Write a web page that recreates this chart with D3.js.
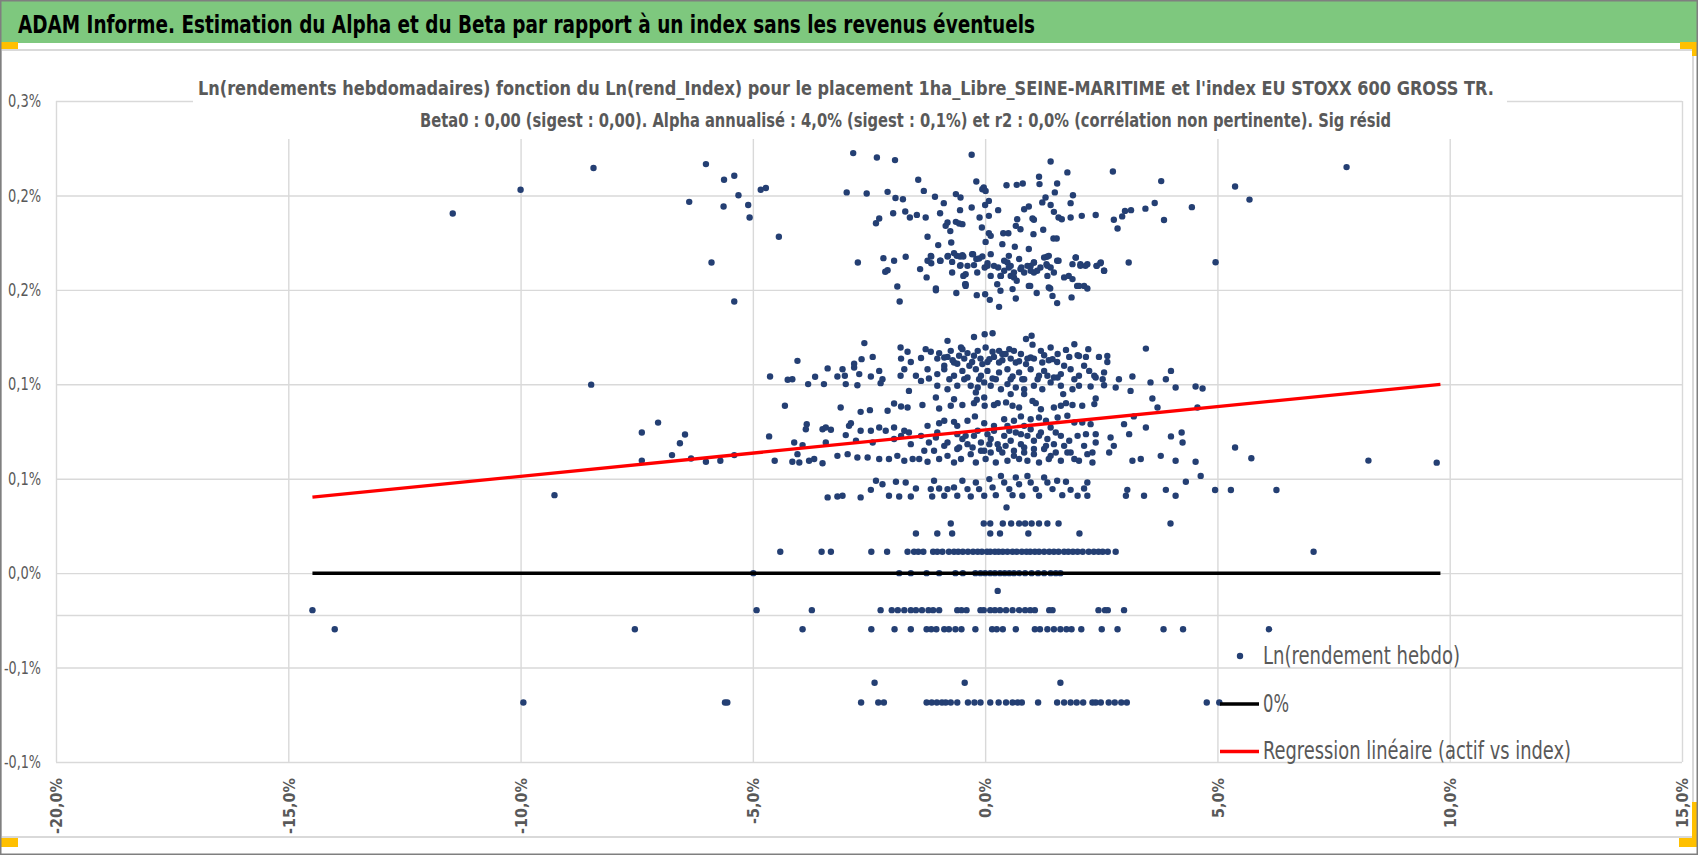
<!DOCTYPE html>
<html>
<head>
<meta charset="utf-8">
<script src="https://cdn.jsdelivr.net/npm/d3@7"></script>
<style>
  body { margin: 0; background: #fff; }
  svg { display: block; }
  .grid line { stroke: #d9d9d9; stroke-width: 1.4; }
  .grid path { display: none; }
  .lbl text { fill: #595959; }
  .lbl path, .lbl line { display: none; }
</style>
</head>
<body>
<div class="chart"></div>
<script>
// ---- data (x = Ln(rend_Index) in %, y = Ln(rendement hebdo) in %) ----
const headerText = "ADAM Informe. Estimation du Alpha et du Beta par rapport à un index sans les revenus éventuels";
const titleLines = [
    "Ln(rendements hebdomadaires) fonction du Ln(rend_Index) pour le placement 1ha_Libre_SEINE-MARITIME  et l'index EU STOXX 600 GROSS TR.",
    "Beta0 : 0,00 (sigest : 0,00). Alpha annualisé : 4,0% (sigest : 0,1%) et r2 : 0,0% (corrélation non pertinente). Sig résid"
];
const legendLabels = ["Ln(rendement hebdo)", "0%", "Regression linéaire (actif vs index)"];

const xTicks = [-20, -15, -10, -5, 0, 5, 10, 15];
const xTickLabels = ["-20,0%", "-15,0%", "-10,0%", "-5,0%", "0,0%", "5,0%", "10,0%", "15,0%"];
const yTicks = [-0.1, -0.05, 0, 0.05, 0.1, 0.15, 0.2, 0.25];
const yTickLabels = ["-0,1%", "-0,1%", "0,0%", "0,1%", "0,1%", "0,2%", "0,2%", "0,3%"];
const axisCross = [-0.0222];

// 0% line and regression line end points
const zeroX = [-14.48, 9.8];
const zeroY = [0, 0];
const regX = [-14.48, 9.8];
const regY = [0.0402, 0.1000];

// weekly returns that fall on discrete levels (lower part of the cloud)
const rowLevels = [-0.0685, -0.058, -0.0297, -0.0196, -0.0094, 0, 0.0113, 0.021, 0.0263];
const rowXs = [
    [-9.94, -5.60, -5.55, -2.67, -2.30, -2.18, -1.26, -1.15, -1.04, -0.93, -0.85, -0.74, -0.60, -0.37, -0.23, -0.10, 0.11, 0.29, 0.45, 0.59, 0.70, 0.79, 1.14, 1.55, 1.70, 1.84, 1.97, 2.11, 2.31, 2.38, 2.49, 2.66, 2.79, 2.93, 3.05, 4.77, 5.04],
    [-2.38, -0.44, 1.62],
    [-14.0, -7.54, -3.93, -2.45, -1.95, -1.60, -1.26, -1.16, -1.05, -0.88, -0.78, -0.64, -0.51, -0.21, 0.15, 0.25, 0.38, 0.66, 1.07, 1.18, 1.34, 1.48, 1.62, 1.75, 1.86, 2.07, 2.51, 2.85, 3.84, 4.26, 6.11],
    [-14.48, -4.92, -3.73, -2.25, -2.01, -1.88, -1.74, -1.60, -1.49, -1.36, -1.22, -1.12, -0.99, -0.60, -0.51, -0.40, -0.10, -0.03, 0.11, 0.21, 0.32, 0.45, 0.59, 0.73, 0.86, 0.97, 1.07, 1.38, 1.45, 2.44, 2.58, 2.64, 2.99],
    [0.27],
    [-4.99, -1.85, -1.60, -1.26, -0.99, -0.64, -0.48, -0.21, -0.10, 0, 0.11, 0.21, 0.32, 0.42, 0.52, 0.62, 0.73, 0.86, 1.00, 1.14, 1.27, 1.41, 1.52, 1.62],
    [-4.41, -3.52, -3.32, -2.45, -2.11, -1.67, -1.53, -1.44, -1.33, -1.12, -1.03, -0.92, -0.78, -0.67, -0.58, -0.48, -0.37, -0.26, -0.16, -0.07, 0.04, 0.11, 0.21, 0.29, 0.38, 0.48, 0.59, 0.68, 0.79, 0.89, 0.97, 1.07, 1.16, 1.27, 1.38, 1.48, 1.58, 1.70, 1.79, 1.89, 1.99, 2.10, 2.23, 2.34, 2.44, 2.53, 2.64, 2.81, 7.07],
    [-1.49, -1.03, -0.71, 0.11, 0.32, 0.93, 2.03],
    [-0.74, -0.03, 0.11, 0.38, 0.56, 0.73, 0.86, 1.00, 1.16, 1.34, 1.58, 3.99]
];

// lower cloud, 0.035% .. 0.127%
const lowerCloud = [
    [-0.24,.125],[-0.01,.1265],[0.16,.127],[0.88,.124],[1.0,.1257],[1.02,.121],[-0.81,.123],[-2.60,.1218],[-0.52,.1195],
    [-1.82,.1195],[-1.67,.1172],[-1.28,.1186],[-1.17,.1172],[-0.99,.1165],[-0.88,.1142],[-0.74,.1177],[-0.49,.1186],[-0.38,.1165],[-0.16,.1177],[0.01,.1195],[0.16,.1172],[0.30,.1177],[0.37,.116],[0.52,.1186],[0.62,.1177],[0.77,.116],[1.20,.1177],[1.41,.1195],[1.56,.116],[1.74,.1182],[1.92,.1212],[2.02,.115],[2.22,.1186],[2.63,.115],[3.46,.1189],
    [-2.82,.1109],[-2.66,.1133],[-2.42,.1145],[-1.81,.1136],[-1.60,.1118],[-1.38,.1139],[-1.03,.1136],[-0.81,.1145],[-0.70,.1127],[-0.60,.1109],[-0.45,.1136],[-0.28,.1118],[-0.10,.1136],[0.05,.1118],[0.19,.1145],[0.37,.1127],[0.55,.1136],[0.73,.1122],[0.91,.1136],[1.05,.1136],[1.27,.1154],[1.37,.1127],[1.55,.1118],[1.81,.1145],[1.99,.1154],[2.17,.1145],[2.45,.1145],[2.63,.1118],
    [-0.88,.1098],[-0.77,.1027],[-0.67,.1115],[-0.56,.1151],[-0.45,.1027],[-0.34,.1098],[-0.24,.1151],[-0.13,.1027],[-0.06,.1107],[0.09,.1133],[0.23,.1027],[0.30,.1115],[0.44,.116],[0.55,.1027],[0.66,.1115],[0.80,.1027],[0.88,.1107],[0.98,.1142],[1.13,.1027],[1.23,.1115],[1.34,.1045],[1.45,.1133],[1.56,.1036],[1.70,.1098],[1.92,.1027],[2.13,.1098],[2.35,.1045],[2.53,.1027],
    [-4.04,.1124],[-3.39,.1084],[-3.07,.108],[-3.18,.1041],[-3.02,.1045],[-2.82,.1089],[-2.71,.1054],[-2.46,.1041],[-2.28,.1071],[-2.21,.1027],[-1.82,.1045],[-1.74,.108],[-1.49,.1045],[-1.24,.108],[-1.21,.1031],[-1.03,.1054],[-0.88,.108],[-0.67,.1045],[-0.49,.1071],[-0.38,.1036],[-0.20,.108],[-0.09,.1045],[0.05,.1071],[0.16,.1031],[0.30,.1063],[0.48,.108],[0.59,.1041],[0.73,.1063],[0.84,.1027],[0.98,.108],[1.16,.1045],[1.27,.1071],[1.48,.1036],[1.63,.1054],[1.84,.108],[2.02,.1045],[2.24,.1071],[2.38,.1036],[2.56,.1063],[2.88,.1027],[3.17,.1041],[3.56,.101],[3.89,.1027],[4.0,.1071],[-4.63,.1041],[-4.25,.1024],[-4.15,.1027],[-3.66,.104],[-3.81,.1001],[-3.47,.1001],
    [-3.0,.1001],[-2.75,.0995],[-2.25,.1006],[-1.38,.1018],[-1.03,.0992],[-0.81,.0974],[-0.60,.0992],[-0.31,.0992],[-0.16,.0983],[-0.02,.101],[0.12,.0992],[0.34,.0974],[0.48,.1001],[0.66,.0983],[0.84,.0974],[1.05,.0992],[1.23,.0974],[1.41,.101],[1.63,.0992],[1.88,.0974],[2.02,.0992],[2.27,.0988],[2.56,.0995],[2.81,.0983],[3.13,.0965],[4.1,.0983],[4.53,.0988],[4.68,.0978],[-1.64,.0965],
    [-4.31,.0886],[-3.11,.0877],[-2.68,.0854],[-2.48,.0863],[-2.10,.086],[-1.96,.0898],[-1.81,.0882],[-1.67,.0877],[-1.35,.089],[-1.06,.093],[-0.99,.0872],[-0.74,.0886],[-0.67,.0921],[-0.49,.089],[-0.24,.09],[-0.18,.0918],[-0.02,.093],[-0.01,.0886],[0.19,.089],[0.27,.09],[0.45,.0904],[0.59,.0886],[0.73,.0877],[1.02,.0912],[1.09,.09],[1.20,.0868],[1.48,.0877],[1.63,.0886],[1.74,.09],[1.88,.089],[2.09,.0886],[2.35,.0895],[2.38,.0925],[3.71,.0877],[3.60,.0925],[4.57,.0877],[1.68,.0948],[0.55,.0948],[0.84,.0948],[-0.20,.0957],
    [-3.84,.0789],[-3.86,.0762],[-3.50,.0762],[-3.43,.0771],[-3.32,.0759],[-2.93,.078],[-2.89,.0794],[-2.68,.0754],[-2.46,.0754],[-2.28,.0771],[-2.14,.0754],[-1.96,.0771],[-1.74,.0754],[-1.64,.0745],[-1.24,.078],[-0.99,.0794],[-0.88,.0807],[-0.67,.0801],[-0.60,.078],[-0.38,.0807],[-0.22,.083],[-0.02,.0794],[0.19,.078],[0.41,.0815],[0.48,.078],[0.62,.0807],[0.77,.083],[0.84,.078],[0.98,.0815],[1.16,.0824],[1.31,.0807],[1.41,.0771],[1.56,.0824],[1.77,.0833],[1.92,.0798],[2.09,.0798],[2.27,.0789],[2.99,.0789],[3.20,.083],[3.46,.0771],
    [-4.65,.0724],[-4.11,.0692],[-3.93,.0678],[-3.43,.0692],[-3.0,.0731],[-2.78,.0701],[-2.42,.0692],[-1.96,.071],[-1.81,.0727],[-1.38,.0727],[-1.21,.0692],[-1.06,.0718],[-0.81,.0692],[-0.60,.0736],[-0.49,.071],[-0.38,.0683],[-0.24,.0727],[-0.09,.0692],[0.05,.0736],[0.12,.071],[0.27,.0683],[0.41,.0727],[0.55,.0701],[0.66,.0745],[0.77,.0683],[0.91,.0727],[1.05,.0701],[1.20,.0745],[1.34,.071],[1.48,.0683],[1.63,.0727],[1.81,.0701],[1.99,.0727],[2.17,.0736],[2.38,.0736],[2.38,.0692],[2.70,.0718],[2.77,.0674],[3.10,.0736],[4.0,.0724],[4.23,.0745],[4.25,.0692],
    [-0.56,.0665],[-0.42,.0727],[-0.27,.0665],[-0.16,.0754],[-0.02,.0648],[0.09,.0683],[0.19,.0754],[0.30,.0657],[0.44,.0674],[0.52,.0754],[0.62,.0621],[0.77,.0736],[0.84,.0665],[0.98,.0762],[1.05,.0657],[1.16,.0727],[1.31,.0674],[1.41,.0621],[1.52,.0745],[1.70,.0674],[1.84,.0639],[2.13,.0674],[2.31,.0639],[-0.88,.0674],[-1.03,.0745],[-1.31,.0648],[-1.60,.0683],
    [-6.33,.0607],[-6.01,.059],[-5.70,.0595],[-5.40,.0625],[-4.53,.0595],[-4.15,.059],[-4.04,.063],[-4.0,.0586],[-3.79,.0595],[-3.68,.0604],[-3.50,.0582],[-3.18,.0621],[-2.96,.063],[-2.75,.0612],[-2.53,.0612],[-2.28,.0604],[-2.07,.0604],[-1.89,.0621],[-1.74,.0595],[-1.56,.0604],[-1.42,.0604],[-1.24,.059],[-1.10,.0648],[-0.99,.0604],[-0.81,.0621],[-0.67,.0586],[-0.60,.0657],[-0.52,.0604],[-0.31,.063],[-0.20,.0586],[-0.09,.0648],[0.01,.0604],[0.12,.0639],[0.23,.0586],[0.37,.0639],[0.48,.0595],[0.62,.0648],[0.73,.0604],[0.84,.0639],[0.91,.0595],[1.05,.063],[1.16,.0586],[1.27,.0657],[1.37,.0604],[1.52,.0639],[1.63,.0595],[1.77,.0639],[1.92,.0604],[2.02,.0595],[2.20,.063],[2.31,.0586],[2.67,.0639],[3.17,.0595],[3.35,.0604],[3.78,.0621],[4.10,.0595],[4.53,.059],[4.64,.0515],[4.32,.0484],
    [-3.39,.0401],[-3.18,.0406],[-3.07,.041],[-2.68,.0401],[-2.46,.0441],[-2.35,.0489],[-2.21,.0471],[-2.07,.041],[-1.92,.0484],[-1.85,.0406],[-1.71,.048],[-1.60,.0406],[-1.49,.0448],[-1.17,.0445],[-1.14,.0406],[-1.10,.0489],[-0.99,.0448],[-0.88,.041],[-0.81,.0445],[-0.67,.0454],[-0.60,.041],[-0.49,.0489],[-0.38,.0445],[-0.31,.0406],[-0.20,.048],[-0.13,.0445],[-0.02,.041],[0.09,.0498],[0.16,.0454],[0.23,.0413],[0.34,.0515],[0.41,.048],[0.46,.0348],[0.52,.0445],[0.59,.0413],[0.66,.0507],[0.73,.0471],[0.80,.041],[0.91,.0515],[0.98,.048],[1.09,.0445],[1.16,.041],[1.27,.0507],[1.34,.048],[1.45,.0445],[1.55,.0489],[1.66,.0413],[1.74,.0484],[1.84,.0441],[1.99,.041],[2.13,.0448],[2.20,.048],[2.20,.041],[3.06,.0441],[3.03,.041],[3.42,.041],[3.89,.0441],[4.10,.041],[4.95,.044],[5.29,.044],[6.27,.044]
];

// upper cloud, 0.14% .. 0.223%
const upperCloud = [
    [-6.37,.1966],[-6.01,.2166],[-5.63,.1941],[-5.62,.2083],[-5.40,.2104],[-5.31,.2001],[-5.10,.1949],[-5.07,.1883],[-4.83,.2030],[-4.72,.2039],[-4.44,.1781],[-5.89,.1645],
    [-2.84,.2224],[-2.98,.2016],[-2.74,.1645],[-2.55,.2010],[-2.33,.2201],[-2.35,.1853],[-2.28,.1878],[-2.19,.1668],[-2.15,.1596],[-2.10,.2019],[-2.10,.1604],[-1.98,.1906],[-1.94,.2187],[-1.93,.1986],[-1.96,.1654],[-1.89,.1518],[-1.77,.1980],[-1.72,.1915],[-1.71,.1675],[-1.62,.1883],[-1.47,.1897],[-1.44,.2083],[-1.40,.1610],[-1.32,.2024],[-1.28,.1883],[-1.26,.1566],[-1.24,.1781],[-1.17,.1680],[-1.16,.1641],[-1.08,.1993],[-1.06,.1507],[-1.01,.1737],[-0.97,.1906],[-0.97,.1654],[-0.89,.1959],[-0.85,.1839],[-0.81,.1857],[-0.80,.1680],[-0.75,.1811],[-0.73,.1751],[-0.71,.1648],[-0.71,.1592],
    [-0.63,.2007],[-0.63,.1860],[-0.61,.1680],[-0.56,.1851],[-0.54,.1922],[-0.53,.1989],[-0.49,.1848],[-0.53,.1631],[-0.49,.1684],[-0.47,.1574],[-0.42,.1530],[-0.38,.1627],[-0.29,.2215],[-0.29,.1936],[-0.26,.1689],[-0.19,.2074],[-0.19,.1663],[-0.17,.1592],[-0.12,.1883],[-0.07,.1830],[-0.06,.2033],[-0.03,.2042],[0.01,.2024],[0.00,.1949],[0.05,.1627],[0.08,.1971],[0.08,.1892],[0.08,.1800],[0.12,.1786],[0.01,.1754],[0.12,.1574],
    [0.28,.1922],[0.37,.1742],[0.39,.1800],[0.41,.1654],[0.50,.1800],[0.51,.1680],[0.46,.2054],[0.55,.1627],[0.66,.1839],[0.64,.1728],[0.68,.2056],[0.69,.1874],[0.76,.1821],[0.76,.1610],[0.81,.2063],[0.84,.1927],[0.94,.1941],[0.94,.1716],[0.98,.1627],[1.02,.1878],[1.04,.1795],[1.05,.1871],[1.05,.1645],[1.16,.2099],[1.17,.2060],[1.23,.1963],[1.25,.1818],[1.30,.1989],[1.33,.1675],[1.34,.1627],[1.41,.2180],[1.41,.1949],[1.47,.1772],[1.48,.1913],[1.50,.2016],[1.54,.1772],[1.55,.2063],[1.58,.1883],[1.58,.1654],[1.65,.1874],[1.77,.2122],[1.84,.1959],[1.84,.1883],[1.88,.1636],[1.89,.2001],[1.95,.1671],[2.05,.1627],[2.08,.1892],[2.20,.1636],[2.38,.1896],[2.40,.1627],[2.49,.1645],[2.56,.1601],[2.75,.2127],[2.77,.1871],[2.85,.1825],[2.95,.1889],[3.01,.1918],[3.14,.1922],[3.09,.1645],
    [0.34,.1574],[0.26,.1530],[0.62,.1566],[1.34,.1574],[1.05,.1592],[1.98,.1521],[2.13,.1521],[1.37,.1513],[0.94,.1521],[-0.42,.1521],
    [-1.84,.1438],[-1.06,.1498],[-0.62,.1483],[-0.43,.1530],[-0.18,.1472],[0.00,.1477],[0.10,.1447],[0.30,.1410],[0.33,.1495],[0.59,.1504],[0.66,.1454],[0.97,.1521],[1.11,.1483],[1.40,.1507],[1.45,.1468],[1.55,.1430],[1.86,.1460],[2.02,.1521],[2.20,.1507],
    [3.45,.193],[3.65,.196],[3.79,.2076],[3.85,.187]
];

// dense core of the upper cloud, 0.155% .. 0.17%
const upperCore = [
    [-1.24,.1654],[-1.16,.1677],[-0.96,.1654],[-0.81,.1677],[-0.67,.1694],[-0.54,.1677],[-0.54,.1627],[-0.47,.1677],[-0.42,.1583],[-0.28,.1689],[-0.24,.1631],[-0.13,.1666],
    [-0.06,.1677],[-0.01,.1618],[0.05,.1641],[0.12,.1689],[0.19,.1627],[0.28,.1618],[0.33,.1574],[0.41,.1601],[0.48,.1645],[0.51,.1618],[0.55,.1574],[0.62,.1592],
    [0.68,.1548],[0.73,.1663],[0.78,.1618],[0.84,.1592],[0.91,.1627],[0.98,.1601],[1.05,.1645],[1.12,.1601],[1.19,.1618],[1.27,.1671],[1.32,.1636],[1.37,.1680],
    [1.41,.1618],[1.48,.1592],[1.55,.1654],[1.70,.1566],[1.80,.1574],[1.88,.1557],[1.95,.1671],[2.05,.1636],[2.16,.1627],[2.40,.1627],[2.48,.1641],[2.56,.1601]
];

// isolated points
const outliers = [
    [-11.46,.1904],[-10.0,.2030],[-8.43,.2145],[-5.40,.1438],[4.45,.1938],[4.96,.1646],[5.38,.2047],[5.69,.1978],[7.78,.2150],
    [-8.48,.0998],[-9.27,.0413],[-7.39,.0745],[-7.04,.0797],[-7.39,.0596],[-6.74,.0625],[-6.57,.0688],[-6.46,.0734],
    [5.38,.0665],[5.73,.0608],[8.25,.0596],[9.72,.0585]
];

// ---- layout ----
const width = 1698;
const height = 855;
const plot = { left: 56, right: 1682, top: 101, bottom: 762 };
const dotColor = "#243f73";
const textFont = "'Liberation Sans Narrow', 'DejaVu Sans Condensed', 'Open Sans', sans-serif";

let svg = d3.select(".chart").append("svg")
    .attr("width", width)
    .attr("height", height);

let xScale = d3.scaleLinear().domain([-20, 15]).range([plot.left, plot.right]);
let yScale = d3.scaleLinear().domain([-0.1, 0.25]).range([plot.bottom, plot.top]);

// all scatter points
let points = upperCloud.concat(upperCore, lowerCloud, outliers);
rowLevels.forEach((level, i) => {
    rowXs[i].forEach(x => points.push([x, level]));
});

// header band
svg.append("rect").attr("x", 0).attr("y", 0).attr("width", width).attr("height", 43).attr("fill", "#7ec87e");
svg.append("text")
    .attr("x", 18).attr("y", 33)
    .attr("font-family", textFont).attr("font-weight", "bold").attr("font-size", 25)
    .attr("textLength", 1017).attr("lengthAdjust", "spacingAndGlyphs")
    .attr("fill", "#000")
    .text(headerText);

// chart frame
svg.append("rect")
    .attr("x", 1).attr("y", 50).attr("width", 1692).attr("height", 787)
    .attr("fill", "none").attr("stroke", "#d9d9d9").attr("stroke-width", 2);

// gridlines
svg.append("g")
    .attr("class", "grid")
    .attr("transform", "translate(0," + plot.bottom + ")")
    .call(d3.axisBottom(xScale).tickValues(xTicks).tickSize(-(plot.bottom - plot.top)).tickFormat(""));
svg.append("g")
    .attr("class", "grid")
    .attr("transform", "translate(" + plot.left + ",0)")
    .call(d3.axisLeft(yScale).tickValues(yTicks.concat(axisCross)).tickSize(-(plot.right - plot.left)).tickFormat(""));

// chart title (its box hides the gridlines behind it)
svg.append("rect").attr("x", 193).attr("y", 66).attr("width", 1314).attr("height", 73).attr("fill", "#fff");
const titleStarts = [198, 420];
const titleBaselines = [95, 127];
const titleWidths = [1296, 971];
titleLines.forEach((line, i) => {
    svg.append("text")
        .attr("x", titleStarts[i]).attr("y", titleBaselines[i])
        .attr("font-family", textFont).attr("font-weight", "bold").attr("font-size", 19.5)
        .attr("textLength", titleWidths[i]).attr("lengthAdjust", "spacingAndGlyphs")
        .attr("fill", "#595959")
        .text(line);
});

// scatter
svg.append("g").selectAll("circle")
    .data(points)
    .enter()
    .append("circle")
    .attr("cx", d => xScale(d[0]))
    .attr("cy", d => yScale(d[1]))
    .attr("r", 3.2)
    .attr("fill", dotColor);

// 0% line and regression
let line = d3.line().x(d => xScale(d[0])).y(d => yScale(d[1]));
svg.append("path")
    .datum(zeroX.map((x, i) => [x, zeroY[i]]))
    .attr("d", line).attr("fill", "none").attr("stroke", "#000").attr("stroke-width", 3.5);
svg.append("path")
    .datum(regX.map((x, i) => [x, regY[i]]))
    .attr("d", line).attr("fill", "none").attr("stroke", "#ff0000").attr("stroke-width", 3.3);

// axis labels
let yLabels = svg.append("g")
    .attr("class", "lbl")
    .attr("transform", "translate(41,0)")
    .call(d3.axisLeft(yScale).tickValues(yTicks).tickSize(0).tickPadding(0)
        .tickFormat((d, i) => yTickLabels[i]));
yLabels.selectAll("text")
    .attr("font-family", textFont).attr("font-size", 17.5)
    .attr("textLength", (d, i) => yTickLabels[i].startsWith("-") ? 37 : 33)
    .attr("lengthAdjust", "spacingAndGlyphs");

let xLabels = svg.append("g")
    .attr("class", "lbl")
    .attr("transform", "translate(0," + plot.bottom + ")")
    .call(d3.axisBottom(xScale).tickValues(xTicks).tickSize(0)
        .tickFormat((d, i) => xTickLabels[i]));
xLabels.selectAll("text")
    .attr("transform", "rotate(-90)")
    .attr("x", -16).attr("y", 0).attr("dy", "0.36em")
    .attr("text-anchor", "end")
    .attr("font-family", "'DejaVu Sans Condensed', 'DejaVu Sans', sans-serif")
    .attr("font-weight", "bold").attr("font-size", 16);

// legend
const legendY = [656, 704, 751.5];
const legendWidths = [197, 26, 308];
let legend = svg.append("g");
legend.append("circle").attr("cx", 1240).attr("cy", legendY[0]).attr("r", 3.2).attr("fill", dotColor);
legend.append("line").attr("x1", 1220).attr("x2", 1259).attr("y1", legendY[1]).attr("y2", legendY[1])
    .attr("stroke", "#000").attr("stroke-width", 3.5);
legend.append("line").attr("x1", 1220).attr("x2", 1259).attr("y1", legendY[2]).attr("y2", legendY[2])
    .attr("stroke", "#ff0000").attr("stroke-width", 3.3);
legendLabels.forEach((label, i) => {
    legend.append("text")
        .attr("x", 1263).attr("y", legendY[i] + 7.5)
        .attr("font-family", textFont).attr("font-size", 24)
        .attr("textLength", legendWidths[i]).attr("lengthAdjust", "spacingAndGlyphs")
        .attr("fill", "#595959")
        .text(label);
});

// selection handles and outer border
const handles = [[0, 42, 18, 7], [1680, 42, 18, 7], [1692, 42, 6, 14], [0, 838, 18, 9], [1679, 838, 17, 9], [1692, 802, 5, 45]];
svg.append("g").selectAll("rect")
    .data(handles)
    .enter()
    .append("rect")
    .attr("x", d => d[0]).attr("y", d => d[1]).attr("width", d => d[2]).attr("height", d => d[3])
    .attr("fill", "#ffc000");
svg.append("rect")
    .attr("x", 0.5).attr("y", 0.5).attr("width", width - 1).attr("height", height - 1)
    .attr("fill", "none").attr("stroke", "#7f7f7f").attr("stroke-width", 2);
</script>
</body>
</html>
